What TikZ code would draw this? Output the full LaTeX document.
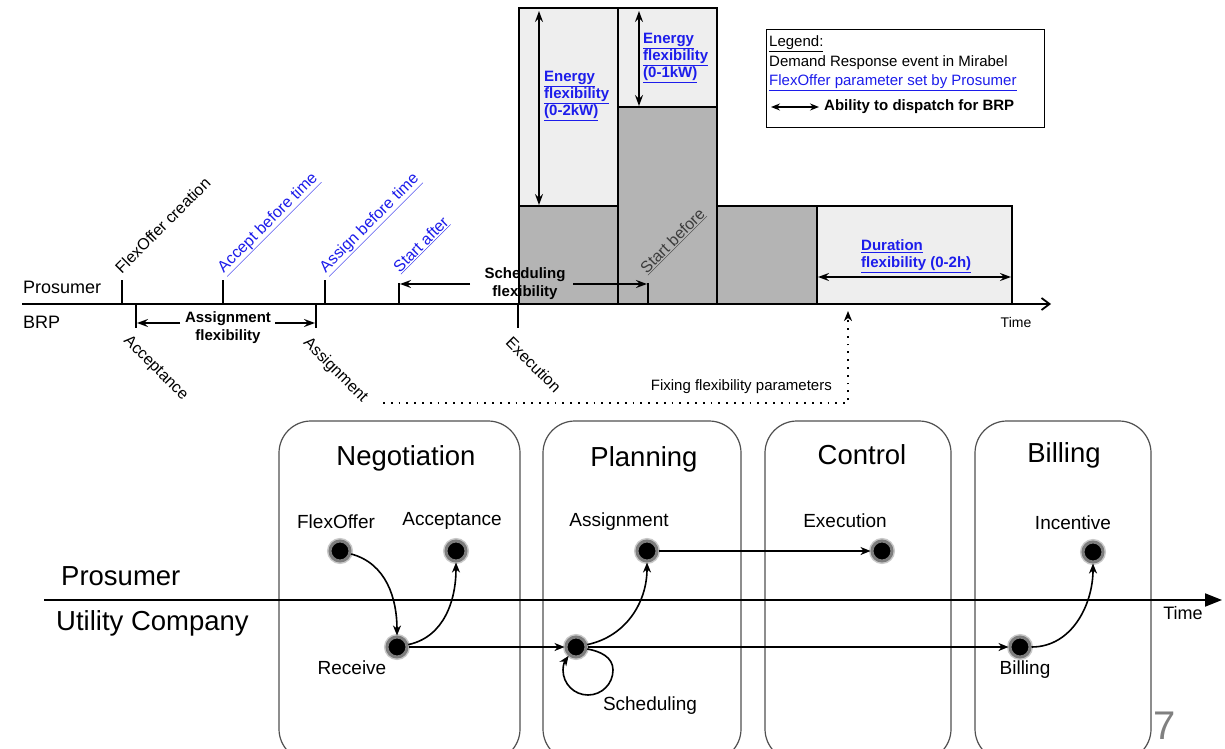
\documentclass[tikz,border=0pt]{standalone}
\usepackage{fontspec}
\setmainfont{Liberation Sans}
\usetikzlibrary{arrows.meta}
\definecolor{linkblue}{RGB}{28,28,235}
\definecolor{lightbar}{RGB}{238,238,238}
\definecolor{darkbar}{RGB}{180,180,180}
\definecolor{boxline}{RGB}{80,80,80}
\definecolor{haloring}{RGB}{125,125,125}
\definecolor{halosoft}{RGB}{200,200,200}
\definecolor{darklink}{RGB}{60,60,60}
\newcommand{\fsz}[2]{\fontsize{#1pt}{#2pt}\selectfont}
\newcommand{\lnk}[1]{\underline{#1}}

\tikzset{
  x=1pt, y=1pt,
  every node/.style={inner sep=1pt},
  dtip/.tip={Stealth[length=11pt,width=8pt,inset=4pt]},
  ctip/.tip={Stealth[length=10pt,width=8pt,inset=3pt]},
  heavy/.style={line width=1.8pt},
  tickln/.style={line width=1.8pt},
  dimarr/.style={line width=1.6pt, {dtip}-{dtip}},
  onearr/.style={line width=1.6pt, -{dtip}},
  sidelbl/.style={font=\fsz{18}{20}, anchor=west},
  rotlbl/.style={font=\fsz{16}{18}, inner sep=1pt},
  uplbl/.style={rotlbl, rotate=45, anchor=base west},
  downlbl/.style={rotlbl, rotate=-45, anchor=north west},
  boldlbl/.style={font=\bfseries\fsz{15}{18}, align=center},
  flexlbl/.style={font=\bfseries\fsz{15}{17}, text=linkblue, align=left, anchor=west},
  legtxt/.style={font=\fsz{15}{17}, anchor=west},
  fixdots/.style={line width=1.8pt, dash pattern=on 1.8pt off 6pt},
  phase/.style={draw=boxline, line width=1.2pt, rounded corners=32pt, inner sep=0pt},
  phasetitle/.style={font=\fsz{27.5}{31}},
  evlbl/.style={font=\fsz{19}{22}},
  evdot/.style={circle, fill=black, draw=haloring, line width=3pt, minimum size=20pt,
    inner sep=0pt, preaction={draw=halosoft, line width=6pt}},
  flow/.style={line width=1.6pt, -{ctip}},
  lanelbl/.style={font=\fsz{27.5}{31}, anchor=west}
}

\begin{document}
\begin{tikzpicture}
\clip (0,0) rectangle (1225,748);
\fill[white] (0,0) rectangle (1225,748);

% ---------- load profile bars ----------
\fill[lightbar] (519,542) rectangle (618,740);
\fill[darkbar]  (519,444) rectangle (618,542);
\fill[lightbar] (618,641) rectangle (717,740);
\fill[darkbar]  (618,444) rectangle (717,641);
\fill[darkbar]  (717,444) rectangle (817,542);
\fill[lightbar] (817,444) rectangle (1012,542);
\draw[heavy] (519,444) rectangle (618,740);
\draw[heavy] (519,542) -- (618,542);
\draw[heavy] (618,444) rectangle (717,740);
\draw[heavy] (618,641) -- (717,641);
\draw[heavy] (717,444) rectangle (817,542);
\draw[heavy] (817,444) rectangle (1012,542);

% ---------- upper time axis ----------
\coordinate (axL) at (22,444);
\coordinate (axR) at (1051,444);
\draw[heavy, -{Straight Barb[length=8pt,width=12pt]}] (axL) -- (axR);
\node[sidelbl] (prosT) at (22,461) {Prosumer};
\node[sidelbl] (brpT) at (22,426) {BRP};
\node[font=\fsz{14}{16}] (timeT) at (1016,426) {Time};

% prosumer-side marks
\coordinate (tFO) at (122,444);
\coordinate (tAB) at (223,444);
\coordinate (tSB) at (325,444);
\coordinate (tSA) at (399,444);
\coordinate (tST) at (648,444);
\draw[tickln] (tFO) -- ++(0,24);
\draw[tickln] (tAB) -- ++(0,24);
\draw[tickln] (tSB) -- ++(0,24);
\draw[tickln] (tSA) -- ++(0,21);
\draw[tickln] (tST) -- ++(0,21);
\node[uplbl] (lFO) at (121,473) {FlexOffer creation};
\node[uplbl, text=linkblue] (lAB) at (223,474) {\lnk{Accept before time}};
\node[uplbl, text=linkblue] (lSB) at (325,474) {\lnk{Assign before time}};
\node[uplbl, text=linkblue] (lSA) at (399,474) {\lnk{Start after}};
\node[uplbl, text=darklink] (lST) at (646,473) {\lnk{Start before}};

% BRP-side marks
\coordinate (tAC) at (136,444);
\coordinate (tAS) at (316,444);
\coordinate (tEX) at (518,444);
\draw[tickln] (tAC) -- ++(0,-24);
\draw[tickln] (tAS) -- ++(0,-24);
\draw[tickln] (tEX) -- ++(0,-24);
\node[downlbl] (lAC) at (131,416) {Acceptance};
\node[downlbl] (lAS) at (311,414) {Assignment};
\node[downlbl] (lEX) at (513,414) {Execution};

% assignment flexibility
\node[boldlbl] (asflex) at (228,420) {Assignment\\flexibility};
\coordinate (asA) at (180,425);
\coordinate (asB) at (137,425);
\coordinate (asC) at (275,425);
\coordinate (asD) at (315,425);
\draw[onearr] (asA) -- (asB);
\draw[onearr] (asC) -- (asD);

% scheduling flexibility
\node[boldlbl] (scflex) at (525,464) {Scheduling\\flexibility};
\coordinate (scA) at (470,464);
\coordinate (scB) at (400,464);
\coordinate (scC) at (573,464);
\coordinate (scD) at (647,464);
\draw[onearr] (scA) -- (scB);
\draw[onearr] (scC) -- (scD);

% energy and duration flexibility
\coordinate (e1T) at (539,737);
\coordinate (e1B) at (539,543);
\draw[dimarr] (e1T) -- (e1B);
\node[flexlbl] (e1L) at (543,652) {\lnk{Energy}\\\lnk{flexibility}\\\lnk{(0-2kW)}};
\coordinate (e2T) at (639,737);
\coordinate (e2B) at (639,642);
\draw[dimarr] (e2T) -- (e2B);
\node[flexlbl] (e2L) at (642,690) {\lnk{Energy}\\\lnk{flexibility}\\\lnk{(0-1kW)}};
\coordinate (dL) at (818,471);
\coordinate (dR) at (1011,471);
\draw[dimarr] (dL) -- (dR);
\node[flexlbl] (dLbl) at (860,492) {\lnk{Duration}\\\lnk{flexibility (0-2h)}};

% fixing of the flexibility parameters
\coordinate (fixA) at (383,345);
\coordinate (fixB) at (848,345);
\coordinate (fixC) at (848,437);
\draw[fixdots, -{Stealth[length=10pt,width=8pt,inset=3pt]}] (fixA) -- (fixB) -- (fixC);
\node[font=\fsz{15}{17}, anchor=east] (fixL) at (833,361) {Fixing flexibility parameters};

% legend
\node[draw, line width=0.9pt, minimum width=278pt, minimum height=98pt, inner sep=0pt] (legend) at (905,670) {};
\node[legtxt] (leg1) at (768,704) {\lnk{Legend:}};
\node[legtxt] (leg2) at (768,685) {Demand Response event in Mirabel};
\node[legtxt, text=linkblue] (leg3) at (768,665) {\lnk{FlexOffer parameter set by Prosumer}};
\coordinate (legA) at (771,641);
\coordinate (legB) at (819,641);
\draw[line width=1.6pt, {Stealth[length=9pt,width=7pt,inset=3pt]}-{Stealth[length=9pt,width=7pt,inset=3pt]}] (legA) -- (legB);
\node[legtxt, font=\bfseries\fsz{15}{17}] (leg4) at (823,641) {Ability to dispatch for BRP};

% ---------- process phases ----------
\node[phase, minimum width=241pt, minimum height=340pt] (negB) at (399.5,157) {};
\node[phase, minimum width=198pt, minimum height=340pt] (plaB) at (642,157) {};
\node[phase, minimum width=186pt, minimum height=340pt] (conB) at (858,157) {};
\node[phase, minimum width=176pt, minimum height=340pt] (bilB) at (1063,157) {};
\node[phasetitle] (negT) at (406,290) {Negotiation};
\node[phasetitle] (plaT) at (644,289) {Planning};
\node[phasetitle] (conT) at (862,293) {Control};
\node[phasetitle] (bilT) at (1064,293) {Billing};

% lower time axis
\coordinate (lwL) at (44,148);
\coordinate (lwR) at (1222,148);
\draw[line width=2pt, -{Triangle[length=17pt,width=13pt]}] (lwL) -- (lwR);
\node[lanelbl] (prosB) at (60,172) {Prosumer};
\node[lanelbl] (utilB) at (55,125) {Utility Company};
\node[font=\fsz{18}{20}] (timeB) at (1183,135) {Time};

% events
\node[evdot] (fo)  at (340,197) {};
\node[evdot] (acc) at (456,197) {};
\node[evdot] (rcv) at (397,101) {};
\node[evdot] (asg) at (647,197) {};
\node[evdot] (exe) at (882,197) {};
\node[evdot] (sch) at (576,101) {};
\node[evdot] (bil) at (1020,101) {};
\node[evdot] (inc) at (1093,196) {};
\node[evlbl] (foL)  at (336,226) {FlexOffer};
\node[evlbl] (accL) at (452,227) {Acceptance};
\node[evlbl] (rcvL) at (352,80) {Receive};
\node[evlbl] (asgL) at (619,226) {Assignment};
\node[evlbl] (exeL) at (845,227) {Execution};
\node[evlbl] (schL) at (650,42) {Scheduling};
\node[evlbl] (bilL) at (1025,78) {Billing};
\node[evlbl] (incL) at (1073,225) {Incentive};

% flows between events
\draw[flow] (fo) to[out=-15,in=90] (rcv);
\draw[flow] (rcv) to[out=12,in=-90] (acc);
\draw[flow] (rcv) -- (sch);
\draw[flow] (sch) to[out=12,in=-90] (asg);
\draw[flow] (sch) -- (bil);
\draw[flow] (asg) -- (exe);
\draw[flow] (bil) to[out=0,in=-90] (inc);

% scheduling repeats itself: loop below the event
\coordinate (lpR) at (613,78);
\coordinate (lpB) at (588,53);
\coordinate (lpL) at (563,78);
\draw[flow] (sch.-10) to[out=-10,in=90] (lpR) to[out=-90,in=0] (lpB)
  to[out=180,in=-90] (lpL) to[out=90,in=-125] (sch.-130);

\node[font=\fsz{40}{44}, text=gray] (pgno) at (1165,22) {7};
\end{tikzpicture}
\end{document}
